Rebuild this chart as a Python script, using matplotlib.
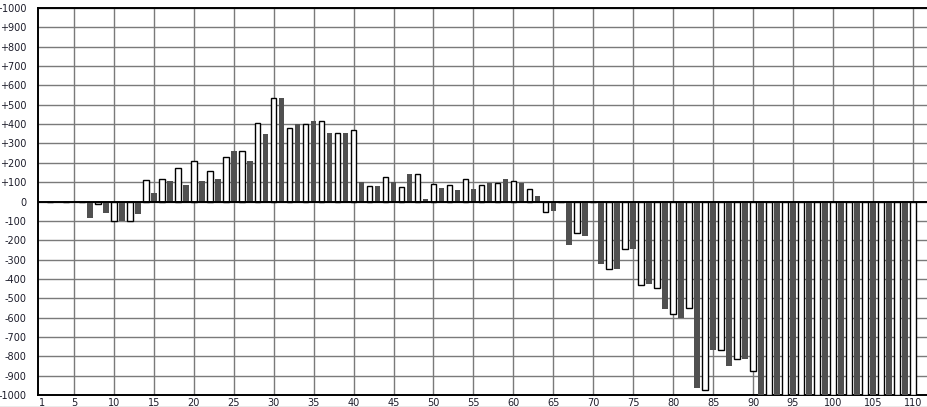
import matplotlib
matplotlib.use("Agg")
from matplotlib import pyplot as plt
from matplotlib.lines import Line2D
import numpy as np

# one bar per position 1..110, odd positions dark, even positions white
positions = list(range(1, 111))
values = [
    0, 0, 0, 0, 0, 0, -86, -15, -60, -100,            # 1-10
    -100, -100, -67, 111, 43, 116, 106, 171, 85, 209,  # 11-20
    106, 157, 116, 228, 261, 260, 209, 405, 351, 536,  # 21-30
    536, 379, 401, 401, 417, 415, 355, 355, 355, 368,  # 31-40
    100, 78, 78, 125, 100, 73, 142, 140, 12, 89,       # 41-50
    68, 84, 58, 114, 63, 84, 98, 98, 116, 104,         # 51-60
    98, 67, 26, -55, -50, 0, -223, -165, -176, 0,      # 61-70
    -322, -351, -348, -247, -243, -430, -426, -445, -557, -581,  # 71-80
    -603, -550, -963, -972, -765, -769, -849, -816, -812, -878,  # 81-90
    -1000, -1000, -1000, -1000, -1000, -1000, -1000, -1000, -1000, -1000,  # 91-100
    -1000, -1000, -1000, -1000, -1000, -1000, -1000, -1000, -1000, -1000,  # 101-110
]
x_ticks = [1] + list(range(5, 111, 5))
y_ticks = list(range(-1000, 1001, 100))
y_labels = [("+%d" % v) if v > 0 else str(v) for v in y_ticks]

W, H = 928, 407
fig = plt.figure(figsize=(W / 100, H / 100), dpi=100)
ax = fig.add_axes([38 / W, 12 / H, (W - 38) / W, 387 / H])

pos = np.array(positions)
vals = np.array(values)
odd = pos % 2 == 1
even = ~odd

ax.bar(pos[odd], vals[odd], width=0.7, color="#505050", edgecolor="none", zorder=3)
ax.bar(pos[even], vals[even], width=0.7, color="white", edgecolor="black",
       linewidth=1.0, zorder=3)
ax.axhline(0, color="black", linewidth=1.4, zorder=4)

ax.set_xlim(0.5, 111.9)
ax.set_ylim(-1000, 1000)
ax.set_xticks(x_ticks)
ax.set_yticks(y_ticks)
ax.set_yticklabels(y_labels)
ax.tick_params(length=0, labelsize=7, colors="#1c1c2a")
ax.tick_params(axis="y", pad=8)
ax.tick_params(axis="x", pad=2.5)

ax.grid(True, color="#7a7a7a", linewidth=1.0, zorder=0)
ax.set_axisbelow(True)
ax.get_xgridlines()[0].set_visible(False)

for side in ["left", "bottom", "top"]:
    ax.spines[side].set_color("black")
    ax.spines[side].set_linewidth(1.4)
ax.spines["right"].set_visible(False)

fig.add_artist(Line2D([0, 1], [0.5 / H, 0.5 / H], color="#999999", linewidth=1.0))

fig.savefig("out.png", dpi=100)
